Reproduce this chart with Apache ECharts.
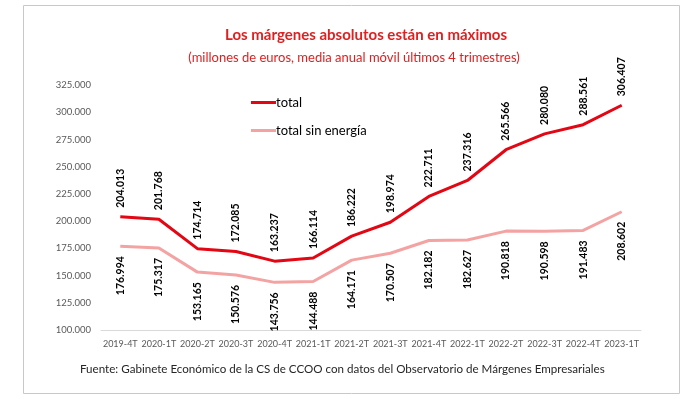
<!DOCTYPE html>
<html>
<head>
<meta charset="utf-8">
<script src="https://cdn.jsdelivr.net/npm/echarts@6/dist/echarts.min.js"></script>
<style>
  html, body { margin: 0; padding: 0; background: #fff; }
  #chart { width: 682px; height: 399px; }
</style>
</head>
<body>
<div id="chart"></div>
<script>
// trimestres
var categories = ['2019-4T', '2020-1T', '2020-2T', '2020-3T', '2020-4T', '2021-1T', '2021-2T',
  '2021-3T', '2021-4T', '2022-1T', '2022-2T', '2022-3T', '2022-4T', '2023-1T'];
// millones de euros
var totalValues = [204013, 201768, 174714, 172085, 163237, 166114, 186222,
  198974, 222711, 237316, 265566, 280080, 288561, 306407];
var sinEnergiaValues = [176994, 175317, 153165, 150576, 143756, 144488, 164171,
  170507, 182182, 182627, 190818, 190598, 191483, 208602];

var FONT = 'Lato';

function miles(v) {
  return String(Math.round(v)).replace(/\B(?=(\d{3})+(?!\d))/g, '.');
}

var myChart = echarts.init(document.getElementById('chart'));
var option = {
  backgroundColor: '#fff',
  textStyle: { fontFamily: FONT },
  title: [{
    text: 'Los márgenes absolutos están en máximos',
    left: 361, top: 23, textAlign: 'center',
    textStyle: { color: '#e02020', fontSize: 15, fontWeight: 'bold', fontFamily: FONT }
  }, {
    text: '(millones de euros, media anual móvil últimos 4 trimestres)',
    left: 349, top: 46, textAlign: 'center',
    textStyle: { color: '#e02020', fontSize: 13, fontWeight: 'normal', fontFamily: FONT }
  }, {
    text: 'Fuente: Gabinete Económico de la CS de CCOO con datos del Observatorio de Márgenes Empresariales',
    left: 75, top: 358,
    textStyle: { color: '#262626', fontSize: 11.6, fontWeight: 'normal', fontFamily: FONT }
  }],
  graphic: [{
    type: 'rect',
    shape: { x: 23.5, y: 5.5, width: 656, height: 388 },
    style: { fill: 'none', stroke: '#c8c8c8', lineWidth: 1 },
    silent: true, z: -1
  }],
  legend: {
    orient: 'vertical',
    left: 246, top: 91,
    itemWidth: 25, itemHeight: 3, itemGap: 15,
    icon: 'rect',
    textStyle: { fontSize: 13, color: '#000', fontFamily: FONT, padding: [0, 0, 0, -5] },
    data: ['total', 'total sin energía']
  },
  grid: { left: 101, right: 41, top: 85, bottom: 69 },
  xAxis: {
    type: 'category',
    data: categories,
    boundaryGap: true,
    axisTick: { show: false },
    axisLine: { lineStyle: { color: '#d9d9d9', width: 1 } },
    axisLabel: { color: '#595959', fontSize: 9, margin: 10, interval: 0, fontFamily: FONT }
  },
  yAxis: {
    type: 'value',
    min: 100000, max: 325000, interval: 25000,
    axisLine: { show: false },
    axisTick: { show: false },
    splitLine: { show: false },
    axisLabel: { color: '#595959', fontSize: 9.5, margin: 10, fontFamily: FONT, formatter: miles }
  },
  series: [{
    name: 'total',
    type: 'line',
    data: totalValues,
    symbol: 'circle',
    symbolSize: 0,
    lineStyle: { color: '#e30613', width: 3 },
    itemStyle: { color: '#e30613' },
    label: {
      show: true, position: 'top', distance: 9, rotate: 90,
      align: 'left', verticalAlign: 'middle',
      color: '#000', fontSize: 10.5, fontWeight: 'bold', fontFamily: FONT,
      formatter: function (p) { return miles(p.value); }
    }
  }, {
    name: 'total sin energía',
    type: 'line',
    data: sinEnergiaValues,
    symbol: 'circle',
    symbolSize: 0,
    lineStyle: { color: '#f4a3a3', width: 3 },
    itemStyle: { color: '#f4a3a3' },
    label: {
      show: true, position: 'bottom', distance: 10, rotate: 90,
      align: 'right', verticalAlign: 'middle',
      color: '#000', fontSize: 10.5, fontWeight: 'bold', fontFamily: FONT,
      formatter: function (p) { return miles(p.value); }
    }
  }]
};
myChart.setOption(option, true);
</script>
</body>
</html>
